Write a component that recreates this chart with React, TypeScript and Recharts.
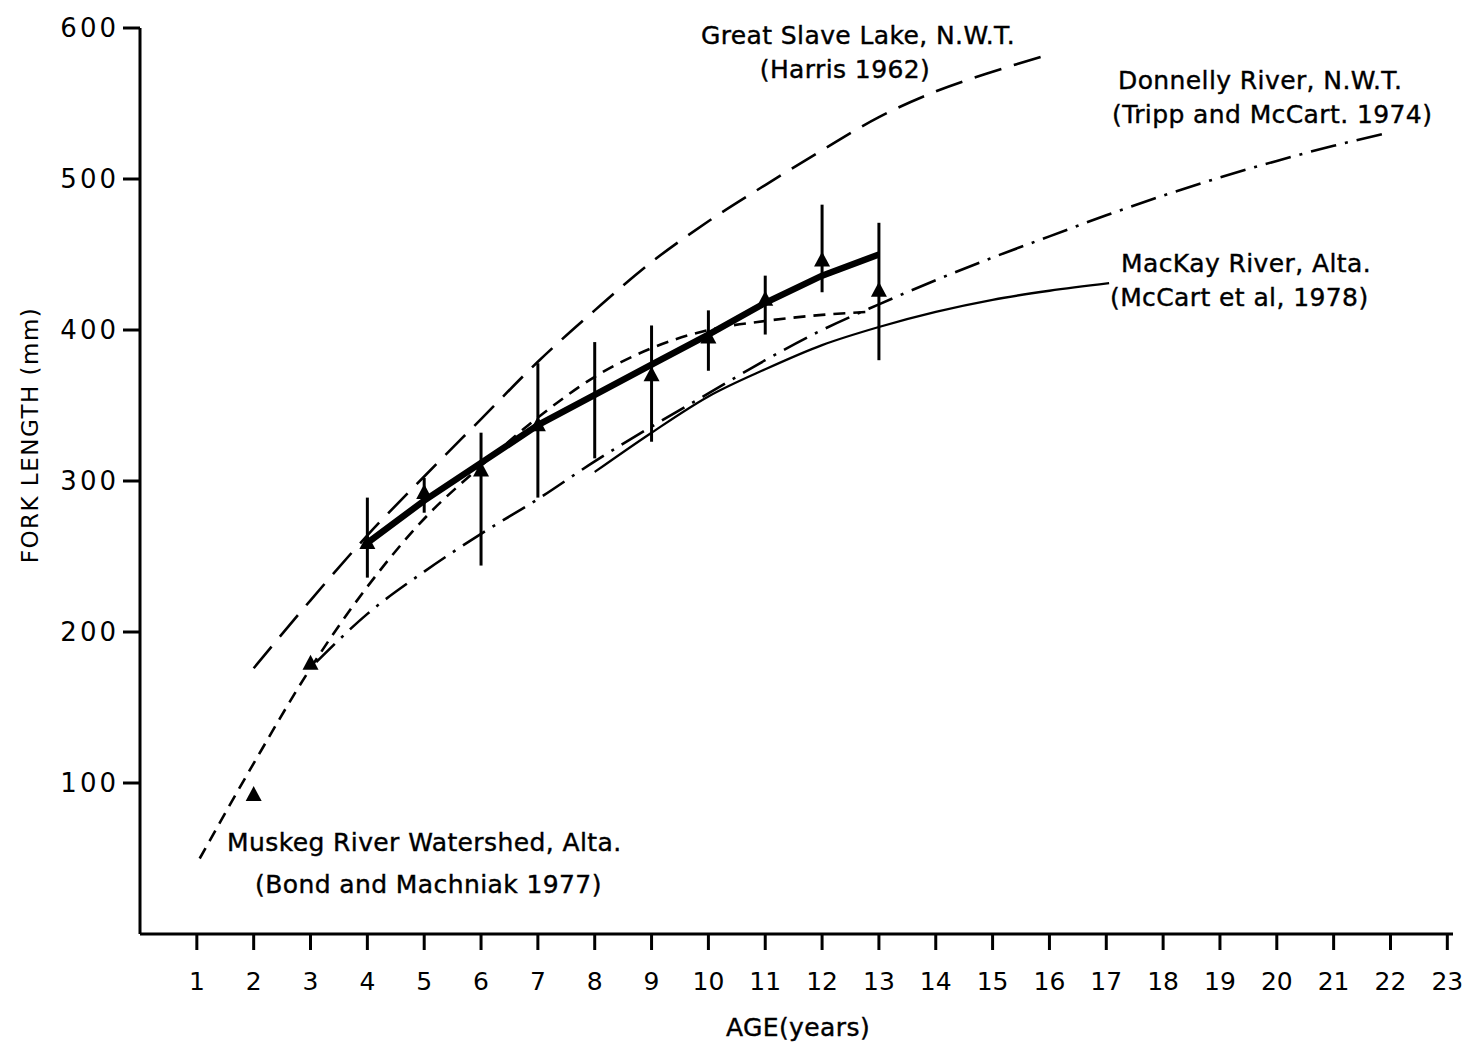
import React from 'react';
import { ComposedChart, Line, XAxis, YAxis, Scatter, ErrorBar } from 'recharts';

// ---- axis ticks ----
const xTicks = [1, 2, 3, 4, 5, 6, 7, 8, 9, 10, 11, 12, 13, 14, 15, 16, 17, 18, 19, 20, 21, 22, 23];
const yTicks = [100, 200, 300, 400, 500, 600];

// ---- Great Slave Lake, N.W.T. (Harris 1962) ----
const slaveAges = [2, 3, 4, 5, 6, 7, 8, 9, 10, 11, 12, 13, 14, 15, 16.05];
const slaveLen = [176, 221, 264, 303, 341, 379, 413, 445, 472, 496, 519, 541, 558, 571, 583];

// ---- Donnelly River, N.W.T. (Tripp and McCart 1974) ----
const donnAges = [3.1, 4, 5, 6, 7, 8, 9, 10, 11, 12, 13, 14, 15, 16, 17, 18, 19, 20, 21, 22];
const donnLen = [180, 212, 240, 265, 288, 313, 336, 358, 380, 400, 417, 433, 448, 462, 476, 489, 501, 512, 522, 531];

// ---- MacKay River, Alta. (McCart et al 1978) ----
const mackAges = [8, 9, 10, 11, 12, 13, 14, 15, 16, 17.05];
const mackLen = [306, 332, 356, 374, 390, 402, 412, 420, 426, 431];

// ---- Muskeg River Watershed, Alta. (Bond and Machniak 1977) ----
const muskAges = [1.05, 2, 3, 4, 5, 6, 7, 8, 9, 10, 11, 12, 12.8];
const muskLen = [50, 113, 176, 230, 275, 310, 342, 369, 388, 400, 406, 410, 412];

// ---- this study: mean line ----
const meanAges = [4, 5, 6, 7, 8, 9, 10, 11, 12, 13];
const meanLen = [259, 287, 312, 337, 357, 377, 397, 418, 436, 450];

// ---- observed points (triangles) ----
const triAges = [2, 3, 4, 5, 6, 7, 9, 10, 11, 12, 13];
const triLen = [92, 179, 259, 292, 307, 337, 370, 395, 420, 446, 426];

// ---- ranges (vertical bars) ----
const barAges = [4, 5, 6, 7, 8, 9, 10, 11, 12, 13];
const barMid = [259, 292, 307, 337, 357, 370, 395, 420, 446, 426];
const barLow = [236, 279, 244, 289, 315, 326, 373, 397, 425, 380];
const barHigh = [289, 302, 332, 378, 392, 403, 413, 436, 483, 471];

const toRows = (ages: number[], vals: number[]) => ages.map((a, i) => ({ age: a, len: vals[i] }));

const slaveData = toRows(slaveAges, slaveLen);
const donnData = toRows(donnAges, donnLen);
const mackData = toRows(mackAges, mackLen);
const muskData = toRows(muskAges, muskLen);
const meanData = toRows(meanAges, meanLen);
const triData = toRows(triAges, triLen);
const barData = barAges.map((a, i) => ({
  age: a,
  len: barMid[i],
  err: [barMid[i] - barLow[i], barHigh[i] - barMid[i]],
}));

const FONT = '"DejaVu Sans", sans-serif';

const Triangle = (props: any) => {
  const { cx, cy } = props;
  if (cx == null || cy == null) return <g />;
  return <polygon points={`${cx},${cy - 9} ${cx - 8},${cy + 6} ${cx + 8},${cy + 6}`} fill="#000" />;
};
const NoShape = () => <g />;

const W = 1476;
const H = 1044;

export default function App() {
  const txt = { fontFamily: FONT, fontSize: 25, letterSpacing: 0.4, fill: '#000', stroke: '#000', strokeWidth: 0.4 } as const;
  return (
    <div style={{ position: 'absolute', left: 0, top: 0, width: W, height: H, background: '#fff' }}>
      <ComposedChart width={W} height={H} margin={{ top: 28, right: 23, left: 0, bottom: 0 }}>
        <XAxis
          dataKey="age"
          type="number"
          domain={[0, 23.1]}
          ticks={xTicks}
          allowDataOverflow
          height={110}
          tickSize={16}
          tickMargin={22}
          axisLine={{ stroke: '#000', strokeWidth: 3 }}
          tickLine={{ stroke: '#000', strokeWidth: 3 }}
          tick={{ fontFamily: FONT, fontSize: 25, fill: '#000' }}
          interval={0}
        />
        <YAxis
          type="number"
          domain={[0, 600]}
          ticks={yTicks}
          allowDataOverflow
          width={140}
          tickSize={17}
          tickMargin={4}
          axisLine={{ stroke: '#000', strokeWidth: 3 }}
          tickLine={{ stroke: '#000', strokeWidth: 3 }}
          tick={{ fontFamily: FONT, fontSize: 26, fill: '#000', letterSpacing: 3 }}
          interval={0}
        />
        <Line data={slaveData} dataKey="len" type="monotone" stroke="#000" strokeWidth={2.6}
          strokeDasharray="28 13" dot={false} isAnimationActive={false} />
        <Line data={donnData} dataKey="len" type="monotone" stroke="#000" strokeWidth={2.6}
          strokeDasharray="26 9 3 9" dot={false} isAnimationActive={false} />
        <Line data={mackData} dataKey="len" type="monotone" stroke="#000" strokeWidth={2.3}
          dot={false} isAnimationActive={false} />
        <Line data={muskData} dataKey="len" type="monotone" stroke="#000" strokeWidth={2.6}
          strokeDasharray="12 8" dot={false} isAnimationActive={false} />
        <Line data={meanData} dataKey="len" type="linear" stroke="#000" strokeWidth={6.5}
          dot={false} isAnimationActive={false} />
        <Scatter data={barData} dataKey="len" shape={NoShape} isAnimationActive={false}>
          <ErrorBar dataKey="err" direction="y" width={0} stroke="#000" strokeWidth={3} />
        </Scatter>
        <Scatter data={triData} dataKey="len" shape={Triangle} isAnimationActive={false} />
      </ComposedChart>
      <svg width={W} height={H} style={{ position: 'absolute', left: 0, top: 0, pointerEvents: 'none' }}>
        <text x={858} y={44} textAnchor="middle" {...txt}>Great Slave Lake, N.W.T.</text>
        <text x={845} y={78} textAnchor="middle" {...txt}>(Harris 1962)</text>
        <text x={1118} y={89} {...txt}>Donnelly River, N.W.T.</text>
        <text x={1112} y={123} {...txt}>(Tripp and McCart. 1974)</text>
        <text x={1121} y={272} {...txt}>MacKay River, Alta.</text>
        <text x={1110} y={306} {...txt}>(McCart et al, 1978)</text>
        <text x={227} y={851} {...txt}>Muskeg River Watershed, Alta.</text>
        <text x={255} y={893} {...txt}>(Bond and Machniak 1977)</text>
        <text x={30} y={435} textAnchor="middle" dominantBaseline="central"
          transform="rotate(-90 30 435)" fontFamily={FONT} fontSize={23} letterSpacing={1.5} fill="#000">
          FORK LENGTH (mm)
        </text>
        <text x={798} y={1036} textAnchor="middle" {...txt}>AGE(years)</text>
      </svg>
    </div>
  );
}
